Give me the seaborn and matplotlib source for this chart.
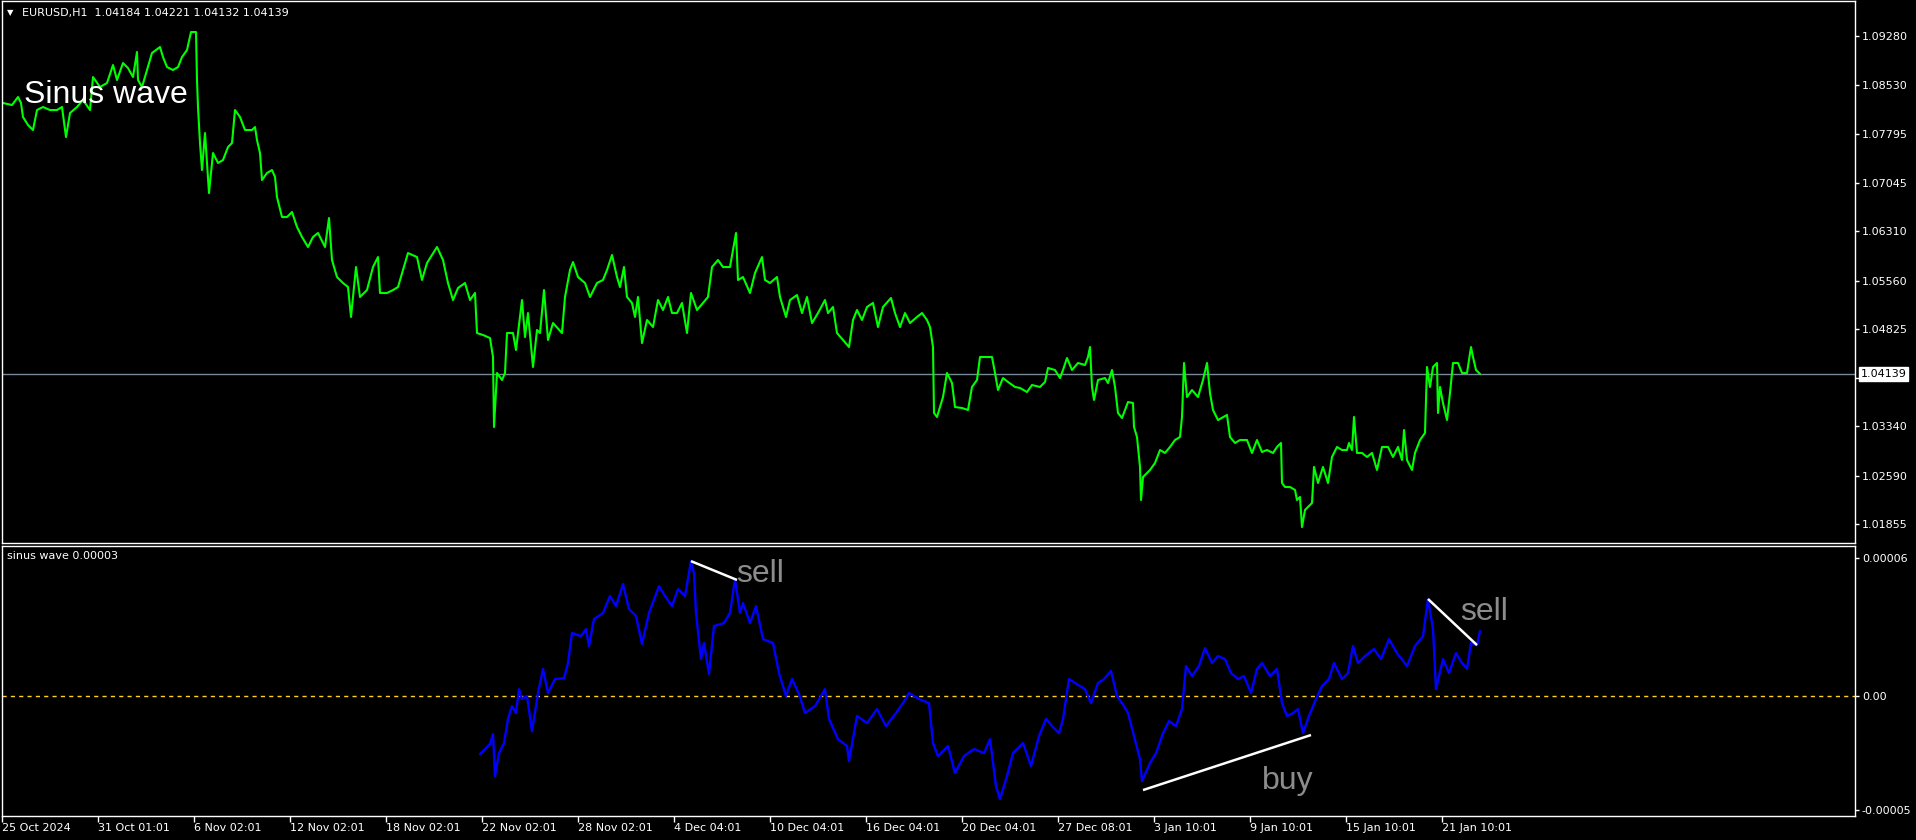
import numpy as np
import pandas as pd
import matplotlib
matplotlib.use("Agg")
import matplotlib.pyplot as plt
import seaborn as sns

# ========================
# data (x = H1 bar index from the left edge)
# ========================

price_bar = [1, 10, 16, 19, 21, 26, 31, 35, 41, 48, 55, 60, 64, 68, 75, 81, 88, 91, 98, 105,
             111, 115, 121, 126, 131, 135, 136, 140, 145, 150, 158, 161, 165, 171, 176, 180, 185, 189, 194, 195,
             196, 198, 200, 203, 207, 211, 216, 221, 226, 230, 233, 238, 243, 250, 253, 255, 258, 260, 265, 270,
             273, 275, 280, 285, 290, 295, 300, 306, 311, 316, 323, 327, 330, 335, 341, 346, 349, 354, 358, 365,
             371, 376, 378, 385, 391, 396, 401, 406, 415, 420, 425, 435, 441, 446, 451, 456, 463, 468, 473, 475,
             481, 488, 491, 492, 495, 500, 503, 505, 511, 514, 520, 523, 526, 531, 535, 538, 542, 546, 551, 560,
             563, 568, 571, 576, 583, 588, 595, 601, 605, 610, 615, 618, 622, 625, 630, 633, 636, 640, 645, 651,
             656, 661, 666, 670, 675, 680, 685, 689, 695, 701, 706, 710, 716, 721, 728, 734, 736, 741, 748, 753,
             760, 763, 768, 775, 778, 784, 788, 795, 800, 805, 810, 816, 823, 826, 831, 835, 841, 847, 851, 855,
             860, 865, 871, 876, 881, 889, 893, 898, 903, 908, 915, 920, 925, 928, 931, 932, 935, 941, 945, 950,
             953, 960, 966, 970, 975, 978, 985, 990, 993, 996, 1001, 1006, 1013, 1018, 1025, 1030, 1038, 1043, 1046, 1053,
             1058, 1061, 1065, 1070, 1076, 1083, 1086, 1088, 1090, 1092, 1096, 1103, 1106, 1110, 1113, 1116, 1120, 1123, 1126, 1131,
             1132, 1135, 1138, 1139, 1141, 1148, 1153, 1158, 1163, 1168, 1173, 1178, 1180, 1182, 1185, 1190, 1196, 1201, 1205, 1208,
             1211, 1216, 1225, 1228, 1233, 1238, 1245, 1250, 1255, 1260, 1265, 1271, 1275, 1279, 1280, 1283, 1288, 1293, 1295, 1298,
             1300, 1303, 1306, 1310, 1312, 1316, 1321, 1326, 1330, 1335, 1340, 1345, 1347, 1350, 1352, 1355, 1360, 1365, 1370, 1375,
             1380, 1386, 1391, 1396, 1400, 1402, 1405, 1410, 1413, 1418, 1423, 1425, 1428, 1431, 1435, 1436, 1438, 1441, 1445, 1448,
             1451, 1456, 1460, 1465, 1469, 1471, 1474, 1478]

price_close = [1.08261, 1.08230, 1.08352, 1.08261, 1.08048, 1.07926, 1.07850, 1.08154, 1.08200, 1.08154,
               1.08154, 1.08200, 1.07743, 1.08108, 1.08200, 1.08306, 1.08154, 1.08656, 1.08504, 1.08565,
               1.08839, 1.08611, 1.08869, 1.08793, 1.08656, 1.09037, 1.08611, 1.08504, 1.08763, 1.09021,
               1.09113, 1.08960, 1.08808, 1.08763, 1.08808, 1.08960, 1.09067, 1.09341, 1.09341, 1.08611,
               1.08200, 1.07652, 1.07241, 1.07804, 1.06891, 1.07500, 1.07348, 1.07393, 1.07591, 1.07652,
               1.08154, 1.08048, 1.07850, 1.07850, 1.07895, 1.07698, 1.07500, 1.07089, 1.07196, 1.07241,
               1.07135, 1.06830, 1.06526, 1.06526, 1.06602, 1.06374, 1.06222, 1.06070, 1.06222, 1.06283,
               1.06070, 1.06511, 1.05872, 1.05613, 1.05522, 1.05461, 1.05005, 1.05765, 1.05309, 1.05415,
               1.05765, 1.05917, 1.05370, 1.05370, 1.05415, 1.05461, 1.05720, 1.05978, 1.05917, 1.05568,
               1.05826, 1.06070, 1.05872, 1.05522, 1.05263, 1.05446, 1.05522, 1.05263, 1.05370, 1.04761,
               1.04731, 1.04685, 1.04396, 1.03331, 1.04153, 1.04046, 1.04153, 1.04761, 1.04761, 1.04503,
               1.05263, 1.04700, 1.05065, 1.04244, 1.04807, 1.04761, 1.05415, 1.04655, 1.04913, 1.04761,
               1.05309, 1.05720, 1.05841, 1.05613, 1.05522, 1.05309, 1.05522, 1.05568, 1.05720, 1.05948,
               1.05613, 1.05461, 1.05765, 1.05309, 1.05218, 1.05005, 1.05309, 1.04609, 1.04959, 1.04852,
               1.05263, 1.05111, 1.05309, 1.05065, 1.05065, 1.05218, 1.04761, 1.05370, 1.05111, 1.05218,
               1.05309, 1.05765, 1.05872, 1.05765, 1.05765, 1.06283, 1.05568, 1.05613, 1.05370, 1.05674,
               1.05917, 1.05568, 1.05522, 1.05613, 1.05309, 1.05005, 1.05263, 1.05339, 1.05065, 1.05309,
               1.04913, 1.05065, 1.05263, 1.05065, 1.05157, 1.04761, 1.04655, 1.04548, 1.04959, 1.05111,
               1.04959, 1.05157, 1.05218, 1.04852, 1.05157, 1.05294, 1.05065, 1.04852, 1.05065, 1.04913,
               1.05005, 1.05065, 1.04959, 1.04852, 1.04548, 1.03544, 1.03483, 1.03787, 1.04153, 1.04000,
               1.03635, 1.03620, 1.03590, 1.03940, 1.04046, 1.04396, 1.04396, 1.04396, 1.04153, 1.03894,
               1.04076, 1.04016, 1.03940, 1.03925, 1.03863, 1.03970, 1.03940, 1.04016, 1.04229, 1.04198,
               1.04076, 1.04198, 1.04381, 1.04198, 1.04305, 1.04274, 1.04396, 1.04548, 1.03940, 1.03742,
               1.04046, 1.04076, 1.04000, 1.04198, 1.03940, 1.03544, 1.03468, 1.03590, 1.03711, 1.03696,
               1.03331, 1.03179, 1.02723, 1.02220, 1.02570, 1.02677, 1.02783, 1.02981, 1.02936, 1.03027,
               1.03133, 1.03179, 1.03483, 1.04305, 1.03787, 1.03894, 1.03787, 1.04046, 1.04305, 1.03848,
               1.03590, 1.03437, 1.03514, 1.03179, 1.03088, 1.03133, 1.03133, 1.02936, 1.03133, 1.02951,
               1.02981, 1.02936, 1.03027, 1.03088, 1.02479, 1.02418, 1.02418, 1.02373, 1.02220, 1.02266,
               1.01809, 1.02068, 1.02114, 1.02175, 1.02723, 1.02479, 1.02723, 1.02479, 1.02875, 1.03027,
               1.02981, 1.02981, 1.03088, 1.02981, 1.03483, 1.02936, 1.02936, 1.02875, 1.02936, 1.02677,
               1.03027, 1.03027, 1.02875, 1.03027, 1.02829, 1.03285, 1.02829, 1.02677, 1.02936, 1.03133,
               1.03240, 1.04244, 1.03940, 1.04244, 1.04305, 1.03544, 1.03940, 1.03696, 1.03437, 1.03848,
               1.04305, 1.04305, 1.04153, 1.04153, 1.04548, 1.04396, 1.04198, 1.04139]

# indicator "sinus wave", values in units of 1e-5
wave_bar = [478, 488, 491, 493, 497, 502, 506, 510, 514, 517, 520, 525, 530, 536, 541, 546, 553, 562, 566, 570,
            579, 584, 587, 592, 601, 608, 614, 621, 627, 634, 640, 647, 657, 663, 670, 676, 683, 689, 692, 694,
            699, 702, 707, 712, 722, 728, 733, 738, 741, 748, 754, 761, 771, 777, 784, 790, 797, 803, 813, 823,
            827, 836, 845, 847, 855, 865, 875, 884, 894, 901, 907, 917, 927, 931, 936, 946, 953, 962, 972, 982,
            988, 994, 998, 1005, 1011, 1021, 1029, 1037, 1044, 1050, 1057, 1061, 1067, 1073, 1083, 1089, 1096, 1102, 1109, 1115,
            1122, 1126, 1132, 1138, 1140, 1148, 1154, 1161, 1167, 1174, 1180, 1184, 1190, 1197, 1203, 1210, 1216, 1223, 1229, 1236,
            1242, 1249, 1255, 1260, 1268, 1275, 1280, 1285, 1291, 1296, 1301, 1307, 1314, 1320, 1327, 1332, 1340, 1346, 1351, 1356,
            1363, 1372, 1379, 1387, 1395, 1405, 1413, 1421, 1426, 1431, 1434, 1441, 1447, 1454, 1460, 1465, 1469, 1475, 1478]

wave_e5 = [-2.55, -2.11, -1.68, -3.51, -2.51, -2.07, -1.02, -0.46, -0.76, 0.28, -0.15, -0.02, -1.55, 0.11, 1.16, 0.11, 0.72, 0.76, 1.42, 2.73,
           2.59, 2.90, 2.16, 3.34, 3.60, 4.34, 3.90, 4.86, 3.77, 3.47, 2.25, 3.60, 4.77, 4.34, 3.90, 4.64, 4.34, 5.86, 5.34, 3.60,
           1.59, 2.29, 0.94, 3.03, 3.16, 3.60, 5.08, 3.60, 4.03, 3.16, 3.90, 2.46, 2.29, 0.98, -0.02, 0.72, 0.07, -0.76, -0.46, 0.28,
           -1.02, -1.90, -2.20, -2.86, -0.89, -1.20, -0.59, -1.33, -0.76, -0.33, 0.11, -0.15, -0.33, -2.07, -2.64, -2.20, -3.38, -2.64, -2.33, -2.51,
           -1.90, -3.95, -4.51, -3.51, -2.51, -2.07, -3.07, -1.77, -1.02, -1.33, -1.64, -1.02, 0.72, 0.55, 0.28, -0.33, 0.55, 0.72, 1.07, -0.02,
           -0.46, -0.76, -1.77, -2.77, -3.73, -2.94, -2.51, -1.64, -1.11, -1.33, -0.59, 1.29, 0.85, 1.29, 2.07, 1.42, 1.72, 1.59, 0.98, 0.72,
           0.85, 0.11, 1.16, 1.42, 0.85, 1.16, -0.33, -0.89, -0.76, -0.59, -1.64, -0.89, -0.15, 0.41, 0.72, 1.42, 0.72, 0.98, 2.16, 1.42,
           1.72, 2.03, 1.59, 2.46, 1.85, 1.29, 2.16, 2.59, 4.21, 2.90, 0.28, 1.59, 0.98, 1.85, 1.42, 1.16, 2.29, 2.20, 2.81]

# divergence lines drawn on the indicator window (bar, value e-5)
sell1_bar, sell1_val = [689, 735], [5.86, 5.04]
buy_bar, buy_val = [1141, 1309], [-4.12, -1.72]
sell2_bar, sell2_val = [1426, 1475], [4.21, 2.20]

date_labels = ['25 Oct 2024', '31 Oct 01:01', '6 Nov 02:01', '12 Nov 02:01', '18 Nov 02:01',
               '22 Nov 02:01', '28 Nov 02:01', '4 Dec 04:01', '10 Dec 04:01', '16 Dec 04:01',
               '20 Dec 04:01', '27 Dec 08:01', '3 Jan 10:01', '9 Jan 10:01', '15 Jan 10:01',
               '21 Jan 10:01']
price_ticks = [1.09280, 1.08530, 1.07795, 1.07045, 1.06310, 1.05560, 1.04825,
               1.04075, 1.03340, 1.02590, 1.01855]
last_price = 1.04139

df_price = pd.DataFrame({'bar': price_bar, 'close': price_close})
df_wave = pd.DataFrame({'bar': wave_bar, 'wave': np.array(wave_e5) * 1e-5})

# ========================
# figure
# ========================

sns.set_style("dark", {"axes.facecolor": "black", "figure.facecolor": "black",
                       "axes.edgecolor": "white", "text.color": "white",
                       "xtick.color": "white", "ytick.color": "white"})
plt.rcParams['font.family'] = ['DejaVu Sans']

W, H = 1916, 840
fig = plt.figure(figsize=(W / 100, H / 100), dpi=100)
fig.patch.set_facecolor('black')

ax1 = fig.add_axes([2 / W, 1 - 543 / H, 1853 / W, 542 / H])
ax2 = fig.add_axes([2 / W, 1 - 816 / H, 1853 / W, 270 / H])

# price window
sns.lineplot(data=df_price, x='bar', y='close', ax=ax1, color='#00FF00',
             linewidth=1.5, estimator=None, sort=False)
# indicator window
sns.lineplot(data=df_wave, x='bar', y='wave', ax=ax2, color='#0000FF',
             linewidth=1.7, estimator=None, sort=False)

nbars = 1853
for ax in (ax1, ax2):
    ax.set_facecolor('black')
    ax.set_xlim(0, nbars)
    ax.grid(False)
    for s in ax.spines.values():
        s.set_color('white')
        s.set_linewidth(1)
    ax.yaxis.tick_right()
    ax.tick_params(axis='y', colors='white', labelsize=8, length=3, width=1,
                   pad=2, right=True, left=False)
    ax.set_xlabel('')
    ax.set_ylabel('')

ax1.set_ylim(1.01566, 1.09813)
ax1.set_yticks(price_ticks)
# the 1.04075 label sits under the last-price box
ax1.set_yticklabels(['' if abs(t - 1.04075) < 1e-9 else f'{t:.5f}' for t in price_ticks])
ax1.tick_params(axis='x', bottom=False, labelbottom=False)
ax1.axhline(last_price, color='#778899', linewidth=1, zorder=1)
ax1.annotate(f'{last_price:.5f}', xy=(1.0, last_price), xycoords=('axes fraction', 'data'),
             xytext=(4, 0), textcoords='offset points', va='center', ha='left',
             fontsize=8, color='black', zorder=10, annotation_clip=False,
             bbox=dict(boxstyle='square,pad=0.15', facecolor='white', edgecolor='white'))

ax2.axhline(0, color='#FFD21F', linewidth=1, linestyle=(0, (3, 3)), zorder=1)
for bx, by in ((sell1_bar, sell1_val), (buy_bar, buy_val), (sell2_bar, sell2_val)):
    ax2.plot(bx, np.array(by) * 1e-5, color='white', linewidth=1.8, solid_capstyle='butt')
ax2.set_ylim(-5.25e-5, 6.52e-5)
ax2.set_yticks([6e-5, 0, -5e-5])
ax2.set_yticklabels(['0.00006', '0.00', '-0.00005'])
ax2.set_xticks(np.arange(len(date_labels)) * 96)
ax2.set_xticklabels(date_labels, ha='left')
ax2.tick_params(axis='x', colors='white', labelsize=8, length=4, width=1, pad=1, bottom=True)

ax2.text(734, 4.95e-5, 'sell', color='#8c8c8c', fontsize=23, family=['Liberation Sans'],
         va='baseline', ha='left')
ax2.text(1458, 3.29e-5, 'sell', color='#8c8c8c', fontsize=23, family=['Liberation Sans'],
         va='baseline', ha='left')
ax2.text(1260, -4.08e-5, 'buy', color='#8c8c8c', fontsize=23, family=['Liberation Sans'],
         va='baseline', ha='left')

# header texts
fig.text(7 / W, 1 - 13 / H, '\u25BC', color='white', fontsize=6, va='center', ha='left')
fig.text(22 / W, 1 - 13 / H, 'EURUSD,H1  1.04184 1.04221 1.04132 1.04139',
         color='white', fontsize=8, va='center', ha='left')
fig.text(24 / W, 1 - 103 / H, 'Sinus wave', color='white', fontsize=23,
         family=['Liberation Sans'], va='baseline', ha='left')
fig.text(7 / W, 1 - 556 / H, 'sinus wave 0.00003', color='white', fontsize=8,
         va='center', ha='left')

fig.savefig('out.png', dpi=100, facecolor='black')
